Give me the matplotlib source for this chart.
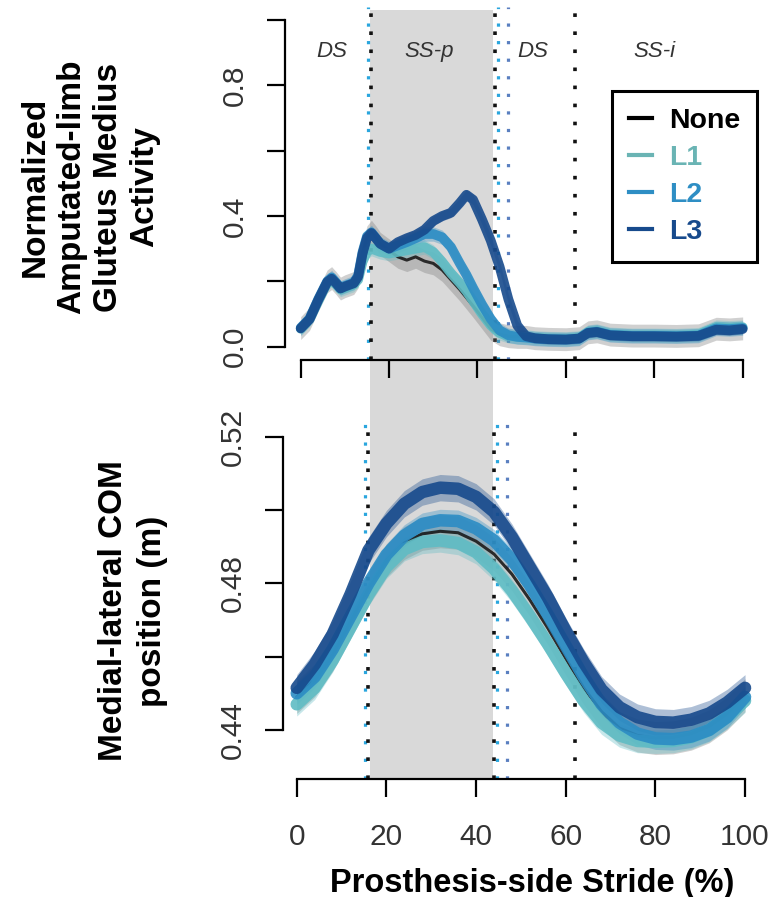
import numpy as np
import matplotlib
matplotlib.use('Agg')
import matplotlib.pyplot as plt
from matplotlib.lines import Line2D
from matplotlib.patches import Rectangle
from matplotlib.transforms import blended_transform_factory

plt.rcParams['font.family'] = ['Liberation Sans', 'DejaVu Sans']

# ---- data ----
names = ['None', 'L1', 'L2', 'L3']
colors = ['#1a1a1a', '#5fbcc4', '#2b8cc4', '#174a8c']
legend_colors = ['#000000', '#6ab4b4', '#2e8ec4', '#174a8c']
band_colors = ['#7a7a7a', '#5fbcc4', '#2b8cc4', '#174a8c']

x_emg = [0, 2, 4, 6, 7, 8, 9, 10, 12, 13, 14, 15, 16, 17, 18,
         20, 22, 24, 26, 28, 30, 32, 34, 36, 37.5, 39, 41, 43, 45, 47, 49,
         51, 53, 56, 60, 63, 65, 67, 70, 75, 80, 85, 90, 94, 97, 100]
emg_none = [0.057, 0.085, 0.145, 0.200, 0.210, 0.195, 0.178, 0.185, 0.195, 0.215, 0.285, 0.335, 0.352, 0.335, 0.315,
            0.295, 0.275, 0.265, 0.275, 0.262, 0.255, 0.235, 0.205, 0.175, 0.150, 0.125, 0.090, 0.055, 0.038, 0.032, 0.030,
            0.030, 0.026, 0.024, 0.023, 0.026, 0.044, 0.047, 0.037, 0.034, 0.034, 0.033, 0.035, 0.055, 0.053, 0.056]
emg_l1 = [0.055, 0.083, 0.140, 0.195, 0.205, 0.190, 0.175, 0.180, 0.190, 0.205, 0.260, 0.290, 0.300, 0.295, 0.290,
          0.285, 0.290, 0.295, 0.300, 0.305, 0.290, 0.260, 0.225, 0.195, 0.170, 0.140, 0.100, 0.065, 0.042, 0.033, 0.030,
          0.030, 0.027, 0.025, 0.024, 0.027, 0.045, 0.048, 0.038, 0.035, 0.035, 0.034, 0.037, 0.060, 0.058, 0.060]
emg_l2 = [0.058, 0.086, 0.146, 0.200, 0.212, 0.197, 0.180, 0.186, 0.196, 0.218, 0.290, 0.338, 0.350, 0.333, 0.315,
          0.300, 0.310, 0.320, 0.332, 0.345, 0.345, 0.335, 0.305, 0.255, 0.220, 0.180, 0.130, 0.085, 0.050, 0.035, 0.030,
          0.028, 0.025, 0.023, 0.022, 0.025, 0.043, 0.046, 0.036, 0.033, 0.033, 0.032, 0.034, 0.056, 0.054, 0.057]
emg_l3 = [0.056, 0.084, 0.144, 0.198, 0.208, 0.194, 0.178, 0.184, 0.194, 0.214, 0.285, 0.333, 0.348, 0.332, 0.315,
          0.300, 0.320, 0.332, 0.342, 0.358, 0.385, 0.400, 0.410, 0.440, 0.465, 0.450, 0.390, 0.325, 0.245, 0.145, 0.065,
          0.032, 0.026, 0.023, 0.022, 0.025, 0.042, 0.045, 0.035, 0.032, 0.032, 0.031, 0.033, 0.052, 0.050, 0.054]
emg_sd = [0.035, 0.022, 0.022, 0.015]

x_com = [0, 4, 8, 12, 16, 20, 24, 28, 32, 36, 40, 44, 48, 52, 56, 60, 64, 68, 72, 76, 80, 84, 88, 92, 96, 100]
com_none = [0.4490, 0.4535, 0.4605, 0.4695, 0.4785, 0.4862, 0.4910, 0.4935, 0.4942, 0.4938, 0.4915, 0.4880, 0.4825,
            0.4755, 0.4678, 0.4595, 0.4515, 0.4450, 0.4405, 0.4385, 0.4378, 0.4380, 0.4390, 0.4410, 0.4445, 0.4495]
com_l1 = [0.4470, 0.4515, 0.4590, 0.4680, 0.4770, 0.4845, 0.4893, 0.4913, 0.4917, 0.4910, 0.4885, 0.4840, 0.4780,
          0.4710, 0.4635, 0.4555, 0.4480, 0.4420, 0.4385, 0.4370, 0.4368, 0.4370, 0.4380, 0.4400, 0.4435, 0.4480]
com_l2 = [0.4500, 0.4545, 0.4620, 0.4710, 0.4800, 0.4878, 0.4930, 0.4962, 0.4972, 0.4970, 0.4950, 0.4917, 0.4865,
          0.4795, 0.4715, 0.4630, 0.4545, 0.4470, 0.4420, 0.4390, 0.4377, 0.4375, 0.4382, 0.4400, 0.4435, 0.4490]
com_l3 = [0.4515, 0.4579, 0.4661, 0.4770, 0.4890, 0.4963, 0.5017, 0.5049, 0.5061, 0.5058, 0.5036, 0.4995, 0.4926,
          0.4844, 0.4762, 0.4670, 0.4585, 0.4510, 0.4462, 0.4435, 0.4422, 0.4420, 0.4428, 0.4445, 0.4475, 0.4515]
com_sd = [0.0045, 0.0032, 0.0030, 0.0036]

# gait events (% stride) and phase labels
events_black = [16.0, 44.0, 62.0]
events_light = [15.3, 44.7]
events_mid = [47.0]
stance_span = [16.3, 43.8]
phase_names = ['DS', 'SS-p', 'DS', 'SS-i']
phase_x = [7, 29, 52.5, 80]

emg = [emg_none, emg_l1, emg_l2, emg_l3]
com = [com_none, com_l1, com_l2, com_l3]

W, H = 772, 897
fig = plt.figure(figsize=(W / 100, H / 100), dpi=100)


def add_ax(left, top, right, bottom):
    return fig.add_axes([left / W, 1 - bottom / H, (right - left) / W, (bottom - top) / H])


ax1 = add_ax(285, 7, 751.5, 360)
ax2 = add_ax(283, 423, 754, 779)
ax1.set_xlim(-3.55, 102)
ax1.set_ylim(-0.0407, 1.0398)
ax2.set_xlim(-3.06, 102)
ax2.set_ylim(0.42663, 0.52374)

# grey single-support band across both panels
trans = blended_transform_factory(ax2.transData, fig.transFigure)
fig.patches.append(Rectangle((stance_span[0], 1 - 779 / H), stance_span[1] - stance_span[0], (779 - 10) / H,
                             transform=trans, facecolor='#d9d9d9', edgecolor='none', zorder=-1))

for ax, xs, ys, sds, lw in [(ax1, x_emg, emg, emg_sd, 7), (ax2, x_com, com, com_sd, 9)]:
    ax.patch.set_visible(False)
    for xe in events_light:
        ax.axvline(xe, color='#2aa6de', lw=2.3, ls=(0, (1, 4.5)), zorder=1)
    for xe in events_mid:
        ax.axvline(xe, color='#5a7fc0', lw=2.3, ls=(0, (1, 4.5)), zorder=1)
    for xe in events_black:
        ax.axvline(xe, color='#111111', lw=2.6, ls=(0, (1, 4)), zorder=1)
    for i in range(4):
        y = np.array(ys[i])
        ax.fill_between(xs, y - sds[i], y + sds[i], color=band_colors[i], alpha=0.35, lw=0, zorder=2)
    for i in range(4):
        width = 2.2 if i == 0 else lw
        ax.plot(xs, ys[i], color=colors[i], lw=width, solid_capstyle='round', solid_joinstyle='round',
                alpha=0.9, zorder=3)
    for s in ['top', 'right']:
        ax.spines[s].set_visible(False)
    for s in ['left', 'bottom']:
        ax.spines[s].set_linewidth(1.6)
    ax.spines['bottom'].set_bounds(0, 100)
    ax.set_xticks([0, 20, 40, 60, 80, 100])
    ax.tick_params(length=13, width=1.6, direction='out', labelsize=21.5, color='black')
    ax.tick_params(axis='y', pad=13)
    ax.tick_params(axis='x', pad=19)

ax1.spines['left'].set_bounds(0, 1)
ax1.set_yticks([0, 0.2, 0.4, 0.6, 0.8, 1.0], ['0.0', '', '0.4', '', '0.8', ''])
ax1.set_xticklabels([])
ax2.spines['left'].set_bounds(0.44, 0.52)
ax2.set_yticks([0.44, 0.46, 0.48, 0.50, 0.52], ['0.44', '', '0.48', '', '0.52'])
for ax in [ax1, ax2]:
    for lab in ax.get_yticklabels():
        lab.set_rotation(90)
        lab.set_va('center')
        lab.set_color('#333333')
for lab in ax2.get_xticklabels():
    lab.set_color('#333333')

for name, xp in zip(phase_names, phase_x):
    ax1.text(xp, 0.905, name, style='italic', fontsize=16, color='#333333', ha='center', va='center')

handles = [Line2D([], [], color=c, lw=3) for c in legend_colors]
leg = ax1.legend(handles, names, loc='upper left', bbox_to_anchor=(612 / W, 1 - 91 / H),
                 bbox_transform=fig.transFigure, borderaxespad=0, handlelength=0.8,
                 handletextpad=0.6, labelspacing=0.38, borderpad=0.6, fancybox=False,
                 framealpha=1, edgecolor='black', prop={'weight': 'bold', 'size': 20.5})
leg.get_frame().set_linewidth(2.2)
for t, c in zip(leg.get_texts(), legend_colors):
    t.set_color(c)

fig.text(90 / W, 1 - 187 / H, 'Normalized\nAmputated-limb\nGluteus Medius\nActivity', rotation=90,
         ha='center', va='center', multialignment='center', fontsize=24, fontweight='bold', linespacing=1.22)
fig.text(133 / W, 1 - 611 / H, 'Medial-lateral COM\nposition (m)', rotation=90,
         ha='center', va='center', multialignment='center', fontsize=24, fontweight='bold', linespacing=1.35)
fig.text(531.7 / W, 1 - 883 / H, 'Prosthesis-side Stride (%)', ha='center', va='center',
         fontsize=23.5, fontweight='bold')

fig.savefig('out.png', dpi=100)
